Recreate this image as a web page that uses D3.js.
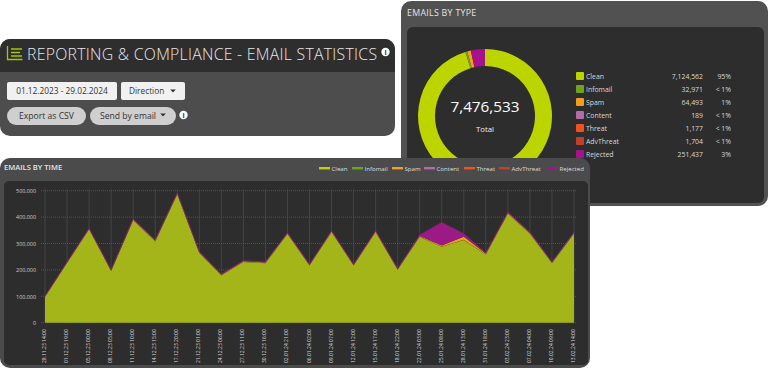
<!DOCTYPE html>
<html>
<head>
<meta charset="utf-8">
<script src="https://cdn.jsdelivr.net/npm/d3@7"></script>
<style>
  html, body { margin: 0; padding: 0; background: #fff; }
  svg { display: block; }
  text { font-family: "Open Sans", sans-serif; }
</style>
</head>
<body>
<div id="chart"></div>
<script>
var width = 768
var height = 368

// donut data
const typeNames = ['Clean', 'Infomail', 'Spam', 'Content', 'Threat', 'AdvThreat', 'Rejected']
const typeValues = [7124562, 32971, 64493, 189, 1177, 1704, 251437]
const typeLabels = ['7,124,562', '32,971', '64,493', '189', '1,177', '1,704', '251,437']
const typePercents = ['95%', '< 1%', '1%', '< 1%', '< 1%', '< 1%', '3%']
const typeColors = ['#bcd400', '#6fa31c', '#f29f1d', '#b06da6', '#f4511e', '#c0402a', '#a5128c']

// time data, emails per bucket
const timeLabels = ['28.11.23 14:00', '01.12.23 19:00', '05.12.23 00:00', '08.12.23 05:00', '11.12.23 10:00',
  '14.12.23 15:00', '17.12.23 20:00', '21.12.23 01:00', '24.12.23 06:00', '27.12.23 11:00', '30.12.23 16:00',
  '02.01.24 21:00', '06.01.24 02:00', '09.01.24 07:00', '12.01.24 12:00', '15.01.24 17:00', '18.01.24 22:00',
  '22.01.24 03:00', '25.01.24 08:00', '28.01.24 13:00', '31.01.24 18:00', '03.02.24 23:00', '07.02.24 04:00',
  '10.02.24 09:00', '13.02.24 14:00']
const clean = [97000, 226000, 353000, 196000, 388000, 308000, 486000, 264000, 179000, 230000, 225000, 336000, 217000,
  343000, 217000, 343000, 201000, 325000, 288000, 313000, 258000, 413000, 337000, 225000, 337000]
const infomail = [1000, 1000, 1000, 1000, 1000, 1000, 1000, 1000, 1000, 1000, 1000, 1000, 1000,
  1000, 1000, 1000, 1000, 1000, 1000, 1000, 1000, 1000, 1000, 1000, 1000]
const spam = [1000, 1000, 2000, 1000, 2000, 2000, 2000, 2000, 2000, 2000, 2000, 2000, 1000,
  2000, 1000, 2000, 1000, 2000, 3000, 12000, 3000, 2000, 2000, 2000, 2000]
const content = [0, 0, 0, 0, 0, 0, 0, 0, 0, 0, 0, 0, 0, 0, 0, 0, 0, 0, 0, 0, 0, 0, 0, 0, 0]
const threat = [0, 0, 0, 0, 0, 0, 0, 0, 0, 0, 0, 0, 0, 0, 0, 0, 0, 0, 200, 200, 0, 0, 0, 0, 0]
const advThreat = [0, 0, 0, 0, 0, 0, 0, 0, 0, 0, 0, 0, 0, 0, 0, 0, 0, 0, 300, 300, 0, 0, 0, 0, 0]
const rejected = [1500, 2000, 2000, 2000, 2000, 2000, 2000, 2000, 2000, 2000, 2000, 2000, 2000,
  2000, 2000, 2000, 2000, 4000, 87000, 10000, 2000, 3000, 3000, 2000, 3000]
const yTicks = [0, 100000, 200000, 300000, 400000, 500000]

const timeSeries = [clean, infomail, spam, content, threat, advThreat, rejected]
const areaColors = ['#a4b51a', '#6fa31c', '#f29f1d', '#b06da6', '#e9531d', '#c0402a', '#9c1a86']

var svg = d3.select('#chart').append('svg')
  .attr('width', width)
  .attr('height', height)

function panel(x, y, w, h, r, fill) {
  return svg.append('rect').attr('x', x).attr('y', y).attr('width', w).attr('height', h).attr('rx', r).attr('fill', fill)
}

function infoIcon(cx, cy, r) {
  svg.append('circle').attr('cx', cx).attr('cy', cy).attr('r', r).attr('fill', '#fff')
  svg.append('text').attr('x', cx).attr('y', cy + r * 0.6).attr('text-anchor', 'middle')
    .attr('font-size', r * 1.7).attr('font-weight', 700).attr('fill', '#333').text('i')
}

function caret(cx, cy, color) {
  svg.append('path').attr('d', `M${cx - 2.8},${cy - 1.5}L${cx + 2.8},${cy - 1.5}L${cx},${cy + 1.5}Z`).attr('fill', color)
}

// --- emails by type panel ---
panel(401, 1, 367, 205, 10, '#515151')
panel(407, 27, 357, 176, 6, '#2d2d2d')
svg.append('text').attr('x', 407).attr('y', 16).attr('font-size', 8.8).attr('letter-spacing', 0.3)
  .attr('fill', '#e4e4e4').text('EMAILS BY TYPE')

var pie = d3.pie().sort(null).value(d => d)
var arc = d3.arc().innerRadius(50).outerRadius(67)
var donut = svg.append('g').attr('transform', 'translate(485,116)')
donut.selectAll('path').data(pie(typeValues)).enter().append('path')
  .attr('d', arc)
  .attr('fill', (d, i) => typeColors[i])
donut.append('text').attr('text-anchor', 'middle').attr('y', -4).attr('font-size', 15.3)
  .attr('fill', '#fff').text('7,476,533')
donut.append('text').attr('text-anchor', 'middle').attr('y', 16).attr('font-size', 7.8)
  .attr('fill', '#eee').text('Total')

var rowY = d3.scalePoint().domain(typeNames).range([76, 154])
var rows = svg.append('g').selectAll('g').data(typeNames).enter().append('g')
  .attr('transform', d => `translate(0,${rowY(d)})`)
rows.append('rect').attr('x', 576).attr('y', -4).attr('width', 8).attr('height', 8).attr('rx', 1)
  .attr('fill', (d, i) => typeColors[i])
rows.append('text').attr('x', 586).attr('y', 2.5).attr('font-size', 6.9).attr('fill', '#d8d8d8').text(d => d)
rows.append('text').attr('x', 703).attr('y', 2.5).attr('text-anchor', 'end').attr('font-size', 6.9)
  .attr('fill', '#d8d8d8').text((d, i) => typeLabels[i])
rows.append('text').attr('x', 731).attr('y', 2.5).attr('text-anchor', 'end').attr('font-size', 6.9)
  .attr('fill', '#d8d8d8').text((d, i) => typePercents[i])

// --- reporting header panel ---
panel(0, 39, 395, 97, 10, '#4d4d4d')
svg.append('path').attr('d', 'M0,72V49A10,10 0 0 1 10,39H385A10,10 0 0 1 395,49V72Z').attr('fill', '#2e2e2e')
svg.append('path')
  .attr('d', 'M7.5,46V59.5H22.5M11,49H22M11,52.5H20M11,56H22')
  .attr('fill', 'none').attr('stroke', '#a9c400').attr('stroke-width', 1.3)
svg.append('text').attr('x', 27).attr('y', 60).attr('font-size', 15.8).attr('font-weight', 300)
  .attr('fill', '#e8e8e8').attr('textLength', 350).attr('lengthAdjust', 'spacing')
  .text('REPORTING & COMPLIANCE - EMAIL STATISTICS')
infoIcon(385.5, 52, 4.2)

panel(7, 82, 110, 18, 2, '#f1f1f1')
svg.append('text').attr('x', 62).attr('y', 94).attr('text-anchor', 'middle').attr('font-size', 8.3)
  .attr('fill', '#333').text('01.12.2023 - 29.02.2024')
panel(121, 82, 64, 18, 2, '#f1f1f1')
svg.append('text').attr('x', 129).attr('y', 94).attr('font-size', 8.3).attr('fill', '#333').text('Direction')
caret(173, 91, '#333')
panel(7, 107, 79, 18, 9, '#cfcfcf')
svg.append('text').attr('x', 46.5).attr('y', 119).attr('text-anchor', 'middle').attr('font-size', 8.6)
  .attr('fill', '#333').text('Export as CSV')
panel(90, 107, 86, 18, 9, '#cfcfcf')
svg.append('text').attr('x', 100).attr('y', 119).attr('font-size', 8.6).attr('fill', '#333').text('Send by email')
caret(163, 115, '#333')
infoIcon(183.5, 115, 4.2)

// --- emails by time panel ---
panel(0, 158, 590, 210, 10, '#4b4b4b')
panel(4, 181, 584, 184, 5, '#2d2d2d')
svg.append('text').attr('x', 4).attr('y', 170).attr('font-size', 7.6).attr('font-weight', 600)
  .attr('fill', '#e4e4e4').text('EMAILS BY TIME')

// legend, swatch and text start per entry
const legendSwatchX = [319, 352, 392, 424, 464, 499, 547]
var legendRows = svg.append('g').selectAll('g').data(typeNames).enter().append('g')
legendRows.append('rect').attr('x', (d, i) => legendSwatchX[i]).attr('y', 167).attr('width', 11).attr('height', 2.4)
  .attr('fill', (d, i) => typeColors[i])
legendRows.append('text').attr('x', (d, i) => legendSwatchX[i] + 12.5).attr('y', 170.5).attr('font-size', 6.1)
  .attr('fill', '#dedede').text(d => d)

var x = d3.scalePoint().domain(timeLabels).range([45, 574])
var y = d3.scaleLinear().domain([0, 500000]).range([322.7, 190.7])

var grid = svg.append('g')
grid.selectAll('.gy').data(yTicks).enter().append('line').classed('gy', true)
  .attr('x1', 41).attr('x2', 576).attr('y1', d => y(d)).attr('y2', d => y(d))
  .attr('stroke', '#666').attr('stroke-width', 0.7).attr('stroke-dasharray', '1,1')
grid.selectAll('.gx').data(timeLabels).enter().append('line').classed('gx', true)
  .attr('x1', d => x(d)).attr('x2', d => x(d)).attr('y1', y(500000) - 2).attr('y2', y(0))
  .attr('stroke', '#4d4d4d').attr('stroke-width', 0.7)

// stack the series in legend order, clean at the bottom
var rowsByTime = timeLabels.map((t, i) => {
  var row = { t: t }
  typeNames.forEach((n, j) => { row[n] = timeSeries[j][i] })
  return row
})
var stacked = d3.stack().keys(typeNames)(rowsByTime)
var area = d3.area().x(d => x(d.data.t)).y0(d => y(d[0])).y1(d => y(d[1]))
svg.append('g').selectAll('path').data(stacked).enter().append('path')
  .attr('d', area)
  .attr('fill', (d, i) => areaColors[i])

// thin outline on top of the stack
var topLine = d3.line().x(d => x(d.data.t)).y(d => y(d[1]))
svg.append('path').datum(stacked[stacked.length - 1])
  .attr('d', topLine)
  .attr('fill', 'none')
  .attr('stroke', '#8a1f78')
  .attr('stroke-width', 0.8)

var yAxis = svg.append('g').attr('transform', 'translate(40,0)')
  .call(d3.axisLeft(y).tickValues(yTicks).tickFormat(d3.format(',')).tickSize(0).tickPadding(4))
yAxis.select('.domain').remove()
yAxis.selectAll('text').attr('font-size', 5.4).attr('fill', '#cfcfcf').style('font-family', '"Open Sans", sans-serif')

var xAxis = svg.append('g').attr('transform', 'translate(0,322.7)')
  .call(d3.axisBottom(x).tickSize(0))
xAxis.select('.domain').remove()
xAxis.selectAll('text')
  .attr('font-size', 5)
  .attr('fill', '#d8d8d8')
  .style('font-family', '"Open Sans", sans-serif')
  .attr('text-anchor', 'end')
  .attr('dx', 0).attr('dy', 0)
  .attr('transform', 'translate(0.5,6.5) rotate(-90)')
  .attr('y', 0).attr('x', 0)
</script>
</body>
</html>
